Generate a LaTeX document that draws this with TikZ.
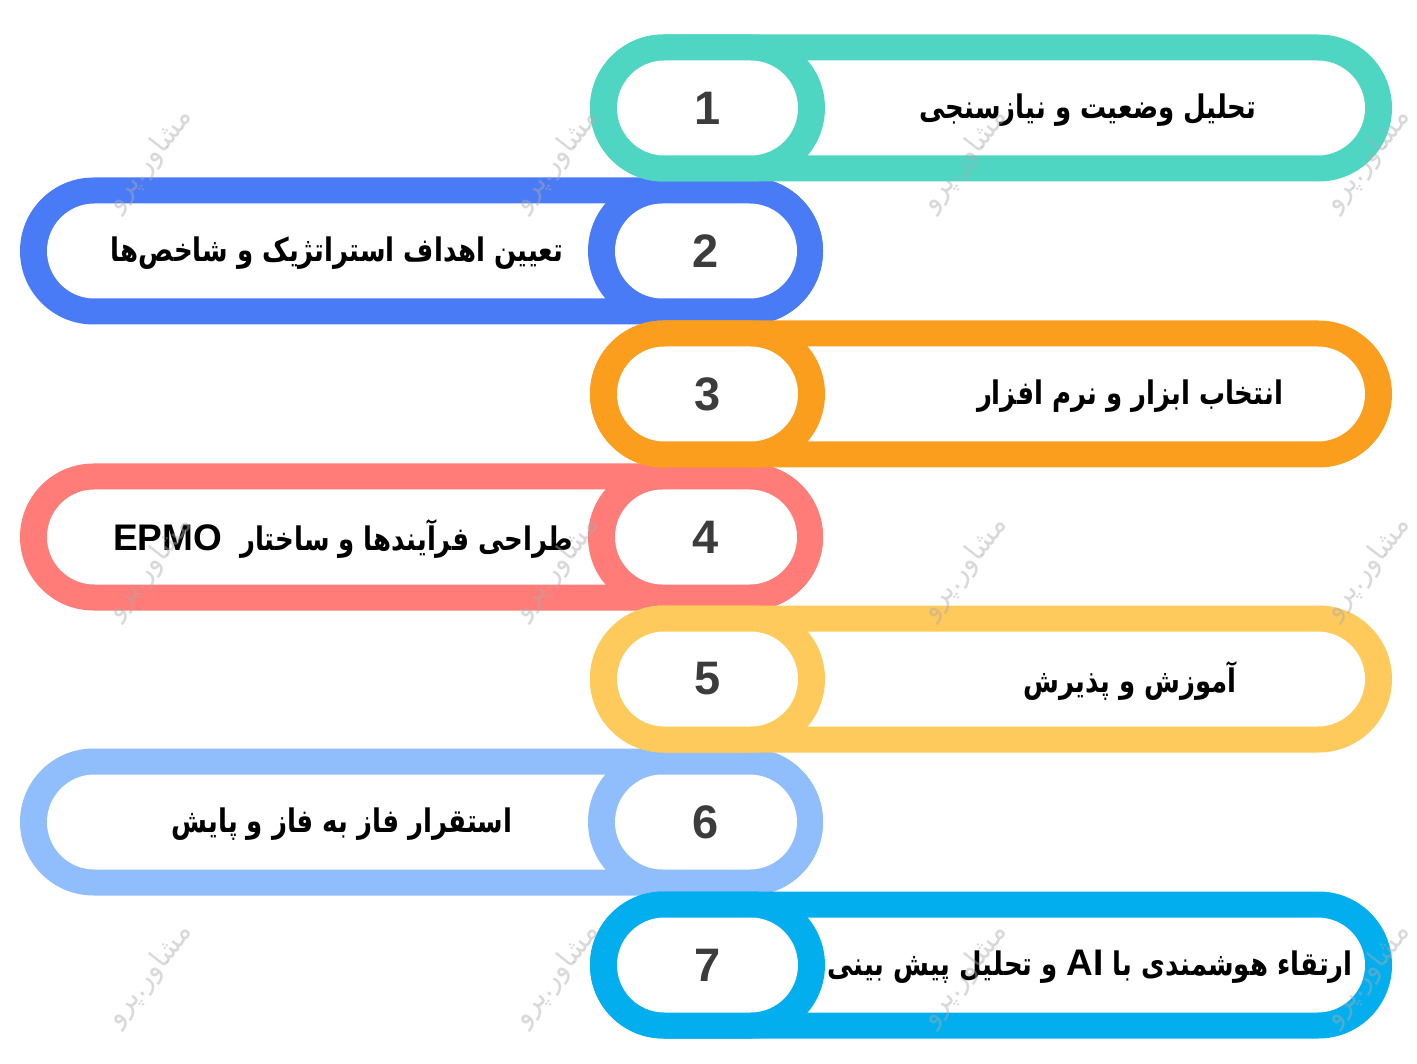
\documentclass[tikz,border=0pt]{standalone}
\usepackage{fontspec}
\usetikzlibrary{shapes.misc}
\TeXXeTstate=1
\newfontfamily\arabicfont[Script=Arabic,FakeStretch=0.8]{DejaVu Sans}
\newfontfamily\marcafont[Script=Arabic]{DejaVu Sans}
\newfontfamily\numfont{Liberation Sans}
\newcommand{\latin}[1]{\beginL{\numfont\fontsize{37}{40}\selectfont #1}\endL}

%colores
\definecolor{verdeagua}{HTML}{4FD6C3}
\definecolor{azul}{HTML}{4A7BF6}
\definecolor{naranja}{HTML}{FB9D1D}
\definecolor{salmon}{HTML}{FF7C78}
\definecolor{amarillo}{HTML}{FDCA5B}
\definecolor{celeste}{HTML}{90BEFC}
\definecolor{cian}{HTML}{03AEEE}
\definecolor{numgris}{HTML}{3C3C3C}
\definecolor{marca}{HTML}{ABABAB}

\tikzset{
  anillo/.style={rounded rectangle, inner sep=0pt, minimum height=147pt},
  hueco/.style={rounded rectangle, fill=white, inner sep=0pt, minimum height=95pt},
  numero/.style={font=\numfont\bfseries\fontsize{47}{50}\selectfont, text=numgris},
  texto/.style={font=\arabicfont\bfseries\fontsize{32.5}{38}\selectfont, text=black},
  marcaagua/.style={font=\marcafont\fontsize{28}{30}\selectfont, text=marca, opacity=0.45, rotate=52}
}

\begin{document}
\begin{tikzpicture}[x=1pt,y=-1pt]
    \useasboundingbox (0,0) rectangle (1417,1064);
    \fill[white] (0,0) rectangle (1417,1064);

    % filas izquierda
    \foreach \n/\yc/\col/\tx/\txt in {2/251/azul/337/{تعیین اهداف استراتژیک و شاخص\char"200C ها},
        4/537/salmon/343/{طراحی فرآیندها و ساختار\ \ \latin{EPMO}},
        6/822/celeste/342/{استقرار فاز به فاز و پایش}}{
        \node[anillo, fill=\col, minimum width=803pt] (barra\n) at (421.5,\yc) {};
        \node[hueco, minimum width=750pt] (fondo\n) at (422,\yc) {};
        \node[anillo, fill=\col, minimum width=235pt] (aro\n) at (705.5,\yc) {};
        \node[hueco, numero, minimum width=182pt] (num\n) at (706,\yc) {\n};
        \node[texto] (txt\n) at (\tx,\yc+2) {\beginR\txt\endR};
    }

    % filas derecha
    \foreach \n/\yc/\col/\tx/\txt in {1/108/verdeagua/1088/{تحلیل وضعیت و نیازسنجی},
        3/394/naranja/1130/{انتخاب ابزار و نرم افزار},
        5/679/amarillo/1130/{آموزش و پذیرش},
        7/965/cian/1090/{ارتقاء هوشمندی با \latin{AI} و تحلیل پیش بینی}}{
        \node[anillo, fill=\col, minimum width=802pt] (barra\n) at (991,\yc) {};
        \node[hueco, minimum width=748pt] (fondo\n) at (991,\yc) {};
        \node[anillo, fill=\col, minimum width=235pt] (aro\n) at (707.5,\yc) {};
        \node[hueco, numero, minimum width=181pt] (num\n) at (707.5,\yc) {\n};
        \node[texto] (txt\n) at (\tx,\yc+2) {\beginR\txt\endR};
    }

    % marca de agua
    \foreach \mx in {150,557,965,1368}
        \foreach \my in {160,568,975}
            \node[marcaagua] at (\mx,\my) {\beginR مشاور.پرو\endR};
\end{tikzpicture}
\end{document}
